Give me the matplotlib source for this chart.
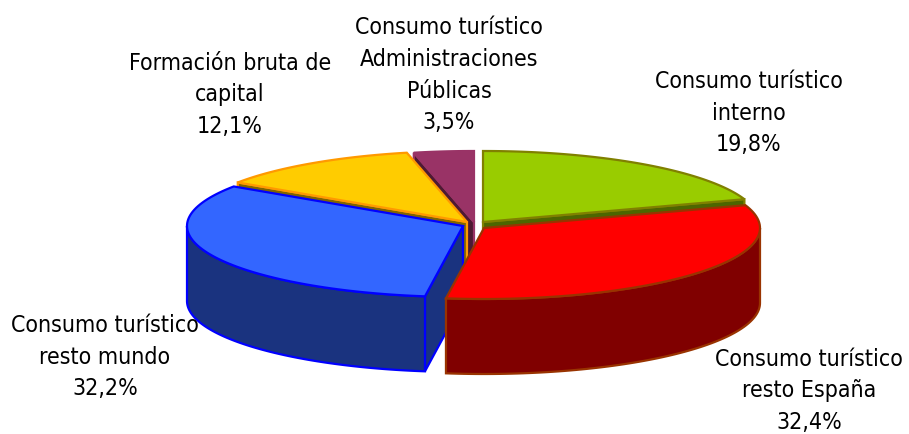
import matplotlib
matplotlib.use('Agg')
import matplotlib.pyplot as plt
import numpy as np

# Data
names = ['Consumo turístico\ninterno', 'Consumo turístico\nresto España', 'Consumo turístico\nresto mundo',
         'Formación bruta de\ncapital', 'Consumo turístico\nAdministraciones\nPúblicas']
values = [19.8, 32.4, 32.2, 12.1, 3.5]

top_colors = ['#99cc00', '#ff0000', '#3366ff', '#ffcc00', '#993366']
side_colors = ['#4d6600', '#800000', '#1a337f', '#806600', '#4d1a33']
edge_colors = ['#808000', '#993300', '#0000ff', '#ff9900', '#993366']

# Layout, all in pixels of the picture
RX, RY, DEPTH = 276, 71, 75
centers = [(483, 222), (484, 228), (463, 226), (467, 222), (474, 222)]
label_pos = [(749, 113), (809, 391), (105, 357), (230, 95), (449, 75)]
draw_order = [4, 0, 3, 2, 1]

FONT = 'DejaVu Sans'
FONT_SIZE = 16.6


def rim(cx, cy, a, b):
    t = np.radians(np.linspace(a, b, 80))
    return cx + RX * np.sin(t), cy - RY * np.cos(t)


def draw_poly(ax, x, y, i, side=False):
    ax.fill(x, y, facecolor=side_colors[i] if side else top_colors[i], edgecolor=edge_colors[i],
            linewidth=1.6, joinstyle='miter')


def draw_slice(ax, i, start, end):
    cx, cy = centers[i]
    # cut faces first, skipping the ones that face away from the viewer
    for ang, visible in ((start, np.sin(np.radians(start)) < -1e-6), (end, np.sin(np.radians(end)) > 1e-6)):
        if not visible:
            continue
        px, py = rim(cx, cy, ang, ang)
        draw_poly(ax, [cx, px[0], px[0], cx], [cy, py[0], py[0] + DEPTH, cy + DEPTH], i, side=True)
    # outer wall, only the front half of the ellipse can be seen
    a, b = max(start, 90), min(end, 270)
    if a < b:
        wx, wy = rim(cx, cy, a, b)
        draw_poly(ax, np.r_[wx, wx[::-1]], np.r_[wy, wy[::-1] + DEPTH], i, side=True)
    x, y = rim(cx, cy, start, end)
    draw_poly(ax, np.r_[cx, x], np.r_[cy, y], i)


fig = plt.figure(figsize=(9.09, 4.34), dpi=100)
ax = fig.add_axes([0, 0, 1, 1])
ax.set_xlim(0, 909)
ax.set_ylim(434, 0)
ax.axis('off')

bounds = np.r_[0, np.cumsum(values)] / sum(values) * 360
for i in draw_order:
    draw_slice(ax, i, bounds[i], bounds[i + 1])

for name, val, (lx, ly) in zip(names, values, label_pos):
    label = name + '\n' + f'{val:.1f}'.replace('.', ',') + '%'
    ax.text(lx, ly, label, ha='center', va='center', family=FONT, stretch='condensed', fontsize=FONT_SIZE,
            linespacing=1.5, color='black')

fig.savefig('out.png', dpi=100)
